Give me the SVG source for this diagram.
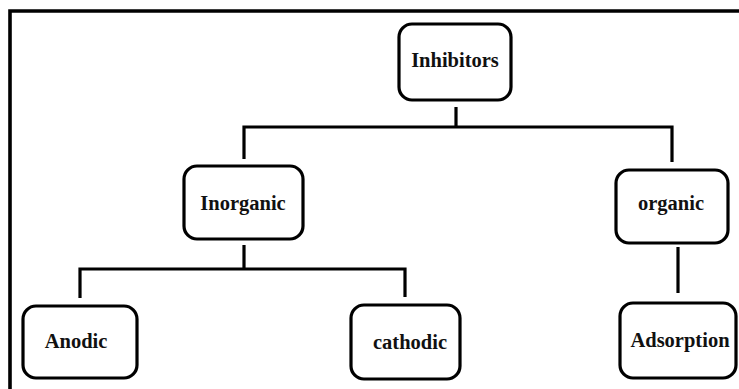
<svg xmlns="http://www.w3.org/2000/svg" width="739" height="389" viewBox="0 0 739 389">
<style>
.box{fill:#fff;stroke:#000;stroke-width:3.2}
.lbl{font-family:"Liberation Serif",serif;font-weight:bold;font-size:20.5px;fill:#111;text-anchor:middle}
.con{fill:none;stroke:#000;stroke-width:3.2}
</style>
<rect width="739" height="389" fill="#fff"/>
<path d="M10,389 V11 H739" fill="none" stroke="#000" stroke-width="3.6"/>
<g id="connectors">
<path class="con" d="M456,107 V127"/>
<path class="con" d="M244,159 V127 H672 V162"/>
<path class="con" d="M244,245 V269"/>
<path class="con" d="M80,298 V269 H405 V297"/>
<path class="con" d="M678,247 V293"/>
</g>
<g id="inhibitors"><rect class="box" x="399" y="24" width="112" height="76" rx="13"/><text class="lbl" x="455" y="67">Inhibitors</text></g>
<g id="inorganic"><rect class="box" x="184" y="166" width="119" height="73" rx="13"/><text class="lbl" x="243" y="210">Inorganic</text></g>
<g id="organic"><rect class="box" x="616" y="170" width="112" height="73" rx="13"/><text class="lbl" x="671" y="210">organic</text></g>
<g id="anodic"><rect class="box" x="23" y="306" width="114" height="72" rx="13"/><text class="lbl" x="76" y="348">Anodic</text></g>
<g id="cathodic"><rect class="box" x="351" y="305" width="109" height="74" rx="13"/><text class="lbl" x="410" y="349">cathodic</text></g>
<g id="adsorption"><rect class="box" x="620" y="303" width="116" height="75" rx="13"/><text class="lbl" x="680" y="347">Adsorption</text></g>
</svg>
